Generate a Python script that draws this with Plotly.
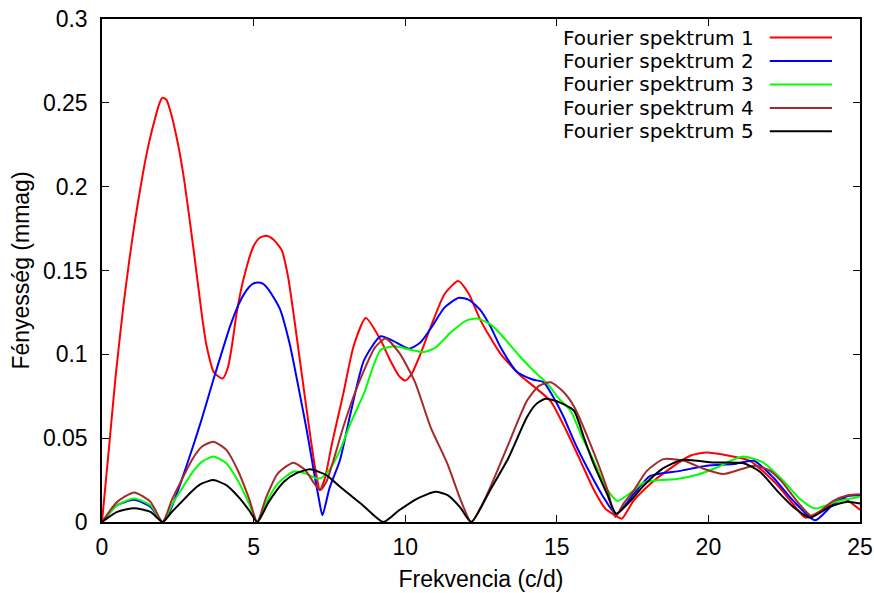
import plotly.graph_objects as go

# ---- data ----
names = ["Fourier spektrum 1", "Fourier spektrum 2", "Fourier spektrum 3",
         "Fourier spektrum 4", "Fourier spektrum 5"]
colors = ["#ff0000", "#0000ff", "#00ff00", "#a52a2a", "#000000"]

x1 = [0, 0.25, 0.45, 0.7, 0.9, 1.1, 1.36, 1.56, 1.8, 1.9, 2.0, 2.12, 2.24, 2.5, 2.71, 3.01, 3.29,
      3.45, 3.7, 3.98, 4.15, 4.28, 4.44, 4.66, 4.99, 5.2, 5.43, 5.65, 5.93, 6.14, 6.35, 6.59,
      6.88, 7.05, 7.19, 7.35, 7.6, 7.96, 8.3, 8.7, 9.19, 9.5, 9.8, 10.0, 10.2, 10.5, 10.84,
      11.3, 11.75, 12.1, 12.48, 13.14, 13.8, 14.3, 14.8, 15.3, 15.78, 16.2, 16.6, 17.0, 17.15,
      17.53, 18.1, 18.63, 19.4, 19.95, 20.6, 21.37, 22.25, 22.8, 23.2, 23.9, 24.4, 25]
y1 = [0, 0.048, 0.087, 0.128, 0.156, 0.181, 0.209, 0.227, 0.244, 0.25, 0.253, 0.252, 0.246,
      0.226, 0.204, 0.164, 0.124, 0.105, 0.089, 0.0856, 0.092, 0.1045, 0.1244, 0.1443, 0.1642,
      0.1695, 0.1707, 0.1685, 0.162, 0.146, 0.12, 0.088, 0.05, 0.03, 0.019, 0.026, 0.048,
      0.0767, 0.105, 0.1216, 0.1085, 0.0966, 0.087, 0.0844, 0.088, 0.1, 0.1163, 0.136, 0.1437,
      0.136, 0.1204, 0.1004, 0.0874, 0.08, 0.072, 0.055, 0.0365, 0.02, 0.008, 0.003, 0.002,
      0.0126, 0.023, 0.0305, 0.0395, 0.0415, 0.0398, 0.0365, 0.0225, 0.0106, 0.0026, 0.0086,
      0.0146, 0.0072]

x2 = [0, 0.5, 1.06, 1.6, 2.0, 2.3, 2.57, 3.0, 3.3, 3.67, 4.0, 4.22, 4.5, 4.77, 4.95, 5.13, 5.3,
      5.5, 5.87, 6.18, 6.43, 6.75, 6.97, 7.15, 7.27, 7.5, 7.85, 8.2, 8.64, 9.19, 9.6, 10.12, 10.5,
      10.9, 11.3, 11.77, 12.1, 12.48, 12.8, 13.14, 13.69, 14.2, 14.56, 14.9, 15.23, 15.6, 16.0,
      16.5, 16.96, 17.53, 18.08, 19.07, 19.95, 20.83, 21.5, 22.14, 22.8, 23.52, 24.12, 24.6, 25]
y2 = [0, 0.01, 0.0132, 0.009, 0, 0.009, 0.022, 0.045, 0.062, 0.0847, 0.104, 0.1165, 0.1295,
      0.1383, 0.1418, 0.1429, 0.1422, 0.1385, 0.127, 0.107, 0.085, 0.055, 0.032, 0.014, 0.004,
      0.02, 0.037, 0.065, 0.0964, 0.1108, 0.108, 0.1034, 0.107, 0.117, 0.128, 0.1337, 0.1325,
      0.1264, 0.117, 0.1044, 0.0894, 0.085, 0.0834, 0.074, 0.0625, 0.047, 0.0325, 0.016, 0.0046,
      0.0166, 0.0275, 0.0305, 0.0335, 0.0346, 0.0365, 0.0265, 0.0126, 0.001, 0.0106, 0.0155,
      0.016]

x3 = [0, 0.5, 1.06, 1.6, 2.0, 2.3, 2.57, 3.0, 3.3, 3.67, 4.1, 4.5, 4.85, 5.12, 5.4, 5.8, 6.31,
      6.7, 7.08, 7.3, 7.6, 7.9, 8.2, 8.64, 9.19, 9.68, 10.1, 10.62, 11.0, 11.5, 12.0, 12.37, 12.8,
      13.1, 13.8, 14.3, 14.68, 15.05, 15.45, 15.85, 16.22, 16.5, 16.77, 17.0, 17.4, 17.86, 18.4,
      18.96, 19.6, 20.28, 20.8, 21.16, 21.8, 22.5, 23.0, 23.52, 24.2, 25]
y3 = [0, 0.01, 0.014, 0.01, 0, 0.01, 0.018, 0.03, 0.036, 0.039, 0.035, 0.024, 0.011, 0, 0.011,
      0.023, 0.030, 0.029, 0.026, 0.027, 0.034, 0.045, 0.059, 0.0767, 0.1026, 0.1048, 0.103,
      0.1014, 0.104, 0.113, 0.12, 0.1214, 0.118, 0.113, 0.0984, 0.089, 0.0828, 0.074, 0.0665,
      0.05, 0.0365, 0.025, 0.0166, 0.0126, 0.017, 0.0235, 0.025, 0.0256, 0.028, 0.0325, 0.037,
      0.039, 0.0355, 0.024, 0.014, 0.008, 0.012, 0.015]

x4 = [0, 0.5, 1.06, 1.6, 2.0, 2.3, 2.57, 3.0, 3.3, 3.67, 4.1, 4.5, 4.85, 5.12, 5.4, 5.8, 6.31,
      6.7, 7.0, 7.19, 7.4, 7.96, 8.3, 8.64, 9.0, 9.35, 9.8, 10.31, 10.84, 11.4, 11.84, 12.18,
      12.7, 13.36, 14.02, 14.4, 14.79, 15.2, 15.58, 16.24, 16.68, 16.93, 17.2, 17.53, 17.97,
      18.52, 19.2, 19.86, 20.5, 21.1, 21.54, 22.0, 22.4, 22.96, 23.41, 24.12, 24.6, 25]
y4 = [0, 0.012, 0.0176, 0.012, 0, 0.013, 0.023, 0.038, 0.045, 0.0479, 0.043, 0.03, 0.014, 0,
      0.014, 0.029, 0.0354, 0.031, 0.023, 0.019, 0.024, 0.0568, 0.075, 0.0904, 0.104, 0.1094,
      0.101, 0.084, 0.0565, 0.0344, 0.0126, 0, 0.0165, 0.0445, 0.0724, 0.081, 0.0834, 0.078,
      0.0685, 0.0405, 0.0186, 0.003, 0.011, 0.0186, 0.0305, 0.0375, 0.0365, 0.0316, 0.0286,
      0.0316, 0.0335, 0.031, 0.0245, 0.0116, 0.0036, 0.0126, 0.016, 0.0166]

x5 = [0, 0.5, 1.06, 1.6, 2.0, 2.3, 2.57, 3.0, 3.3, 3.67, 4.1, 4.5, 4.85, 5.12, 5.5, 6.0, 6.4,
      6.86, 7.4, 7.85, 8.6, 9.28, 9.8, 10.4, 11.0, 11.4, 11.8, 12.18, 12.8, 13.4, 14.0, 14.3,
      14.62, 15.0, 15.56, 15.9, 16.22, 16.66, 16.96, 17.4, 17.86, 18.5, 19.13, 20.17, 21.16,
      21.7, 22.3, 22.8, 23.35, 24.0, 24.56, 25]
y5 = [0, 0.006, 0.0082, 0.006, 0, 0.006, 0.011, 0.019, 0.023, 0.025, 0.022, 0.015, 0.007, 0,
      0.012, 0.024, 0.029, 0.0314, 0.028, 0.021, 0.01, 0, 0.007, 0.014, 0.018, 0.016, 0.009, 0,
      0.019, 0.038, 0.062, 0.07, 0.0735, 0.072, 0.0665, 0.05, 0.0345, 0.0166, 0.005, 0.012,
      0.0216, 0.032, 0.037, 0.0355, 0.035, 0.03, 0.018, 0.009, 0.0026, 0.009, 0.012, 0.011]

xs = [x1, x2, x3, x4, x5]
ys = [y1, y2, y3, y4, y5]

x_ticks = [0, 5, 10, 15, 20, 25]
y_ticks = [0, 0.05, 0.1, 0.15, 0.2, 0.25, 0.3]
y_tick_labels = ["0", "0.05", "0.1", "0.15", "0.2", "0.25", "0.3"]

FONT = "Liberation Sans, Arial, sans-serif"
LEG_FONT = "DejaVu Sans, Liberation Sans, sans-serif"
FS = 23

fig = go.Figure()
for n, c, xv, yv in zip(names, colors, xs, ys):
    fig.add_trace(go.Scatter(x=xv, y=yv, mode="lines", name=n,
                             line=dict(color=c, width=2, shape="spline", smoothing=0.6),
                             showlegend=False))

# legend drawn as text + sample lines (text on the left, sample on the right)
leg_text_x = 0.862
leg_line_x0, leg_line_x1 = 0.881, 0.963
leg_y0, leg_dy = 0.963, 0.0466
for i, (n, c) in enumerate(zip(names, colors)):
    yy = leg_y0 - i * leg_dy
    fig.add_annotation(x=leg_text_x, y=yy, xref="paper", yref="paper", text=n,
                       showarrow=False, xanchor="right", yanchor="middle",
                       borderpad=0, font=dict(family=LEG_FONT, size=20, color="black"))
    fig.add_shape(type="line", xref="paper", yref="paper", x0=leg_line_x0, x1=leg_line_x1,
                  y0=yy, y1=yy, line=dict(color=c, width=2))

axis_common = dict(showline=True, linecolor="black", linewidth=1.5, mirror="allticks",
                   ticks="inside", ticklen=7, tickwidth=1, tickcolor="black",
                   showgrid=False, zeroline=False,
                   tickfont=dict(family=FONT, size=FS, color="black"))

fig.update_xaxes(range=[0, 25], tickvals=x_ticks, ticklabelstandoff=4,
                 title=dict(text="Frekvencia (c/d)", font=dict(family=FONT, size=FS, color="black"),
                            standoff=12),
                 **axis_common)
fig.update_yaxes(range=[0, 0.3], tickvals=y_ticks, ticktext=y_tick_labels, ticklabelstandoff=8,
                 title=dict(text="Fényesség (mmag)", font=dict(family=FONT, size=FS, color="black"),
                            standoff=7),
                 **axis_common)

fig.update_layout(width=874, height=593, margin=dict(l=102, r=14, t=19, b=71, autoexpand=False),
                  paper_bgcolor="white", plot_bgcolor="white",
                  font=dict(family=FONT, size=FS, color="black"))
fig.update_xaxes(automargin=False)
fig.update_yaxes(automargin=False)

fig.write_html("out.html")
